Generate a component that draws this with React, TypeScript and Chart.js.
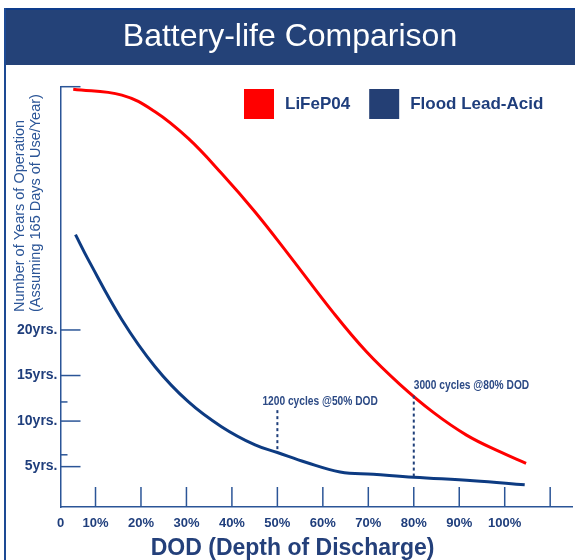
import React, { useEffect, useRef } from 'react';
import { Chart, registerables } from 'chart.js';

Chart.register(...registerables);

// ---------- data ----------
const TITLE = 'Battery-life Comparison';
const Y_TITLE_LINES = ['Number of Years of Operation', '(Assuming 165 Days of Use/Year)'];
const X_TITLE = 'DOD (Depth of Discharge)';

const seriesLabels = ['LiFeP04', 'Flood Lead-Acid'];

const lifepo4Dod = [5.1, 15.8, 23.1, 30.4, 37.7, 45.1, 52.4, 62.3, 69.6, 77.0, 84.3, 91.6, 98.9, 104.7];
const lifepo4Years = [46.42, 45.78, 43.95, 41.02, 37.2, 32.95, 28.33, 21.9, 17.6, 14.0, 10.95, 8.46, 6.64, 5.37];

const leadAcidDod = [5.6, 8.4, 15.8, 23.1, 30.4, 37.7, 45.1, 50, 56.4, 63.8, 71.1, 80, 93.1, 104.4];
const leadAcidYears = [30.46, 27.72, 21.13, 15.97, 12.13, 9.39, 7.38, 6.55, 5.45, 4.42, 4.16, 3.83, 3.46, 3.0];

const X_MIN = 2.3;
const X_MAX = 114.8;
const Y_MIN = 0.57;
const Y_MAX = 46.7;

const xTickValues = [10, 20, 30, 40, 50, 60, 70, 80, 90, 100, 110];
const xTickLabels = ['10%', '20%', '30%', '40%', '50%', '60%', '70%', '80%', '90%', '100%', ''];
const X_ORIGIN_LABEL = '0';

const yTickValues = [5, 10, 15, 20];
const yTickLabels = ['5yrs.', '10yrs.', '15yrs.', '20yrs.'];
const yMinorTickValues = [6.3, 12.1];

const annotationDod = [50, 80];
const annotationTopYears = [11.2, 12.8];
const annotationLabels = ['1200 cycles @50% DOD', '3000 cycles @80% DOD'];

// ---------- styles ----------
const FONT = '"Liberation Sans", Arial, Helvetica, sans-serif';
const NAVY = '#1f3e7c';
const AXIS_COLOR = '#2b5597';
const HEADER_BG = '#244278';
const RED = '#ff0000';
const LINE_BLUE = '#0d3b82';
const legendColors = ['#ff0000', '#243f74'];

const decorPlugin = {
  id: 'decor',
  beforeDraw(chart: any) {
    const ctx = chart.ctx;
    ctx.save();
    ctx.fillStyle = '#ffffff';
    ctx.fillRect(0, 0, chart.width, chart.height);
    // header band
    ctx.fillStyle = HEADER_BG;
    ctx.fillRect(4, 8, chart.width - 4, 57);
    ctx.fillStyle = '#0e3c8c';
    ctx.fillRect(4, 8, chart.width - 4, 2);
    // left frame line
    ctx.fillStyle = '#1d4a94';
    ctx.fillRect(4, 8, 2, chart.height - 8);
    // title
    ctx.fillStyle = '#ffffff';
    ctx.font = `32px ${FONT}`;
    ctx.textAlign = 'center';
    ctx.textBaseline = 'middle';
    ctx.fillText(TITLE, 290, 37);
    ctx.restore();
  },
  afterDraw(chart: any) {
    const ctx = chart.ctx;
    const xs = chart.scales.x;
    const ys = chart.scales.y;
    const area = chart.chartArea;
    ctx.save();
    // tick marks (pointing inward)
    ctx.strokeStyle = AXIS_COLOR;
    ctx.lineWidth = 1.5;
    const seg = (x1: number, y1: number, x2: number, y2: number) => {
      ctx.beginPath();
      ctx.moveTo(x1, y1);
      ctx.lineTo(x2, y2);
      ctx.stroke();
    };
    xTickValues.forEach((v) => {
      const px = xs.getPixelForValue(v);
      seg(px, area.bottom, px, area.bottom - 20);
    });
    yTickValues.forEach((v) => {
      const py = ys.getPixelForValue(v);
      seg(area.left, py, area.left + 20, py);
    });
    yMinorTickValues.forEach((v) => {
      const py = ys.getPixelForValue(v);
      seg(area.left, py, area.left + 7, py);
    });
    const pyTop = ys.getPixelForValue(Y_MAX);
    seg(area.left, pyTop, area.left + 20, pyTop);

    // annotations
    const labelOffsets = [-15, 0];
    const labelLift = [-8, -10];
    annotationDod.forEach((d, i) => {
      const px = xs.getPixelForValue(d);
      const idx = leadAcidDod.indexOf(d);
      const bottomVal = leadAcidYears[idx];
      const pyT = ys.getPixelForValue(annotationTopYears[i]);
      const pyB = ys.getPixelForValue(bottomVal);
      ctx.strokeStyle = '#1f3f7a';
      ctx.lineWidth = 2;
      ctx.setLineDash([3, 3]);
      seg(px, pyT, px, pyB);
      ctx.setLineDash([]);
      ctx.fillStyle = '#2c4a85';
      ctx.font = `bold 12px ${FONT}`;
      ctx.textAlign = 'left';
      ctx.textBaseline = 'middle';
      ctx.save();
      ctx.translate(px + labelOffsets[i], pyT + labelLift[i]);
      ctx.scale(0.85, 1);
      ctx.fillText(annotationLabels[i], 0, 0);
      ctx.restore();
    });

    // legend
    ctx.font = `bold 17px ${FONT}`;
    ctx.textAlign = 'left';
    ctx.textBaseline = 'middle';
    let lx = 244;
    const ly = 89;
    chart.data.datasets.forEach((ds: any, i: number) => {
      ctx.fillStyle = legendColors[i];
      ctx.fillRect(lx, ly, 30, 30);
      ctx.fillStyle = NAVY;
      ctx.fillText(ds.label, lx + 41, ly + 15.5);
      lx += 41 + ctx.measureText(ds.label).width + 19;
    });

    // y title
    ctx.fillStyle = AXIS_COLOR;
    ctx.font = `14.5px ${FONT}`;
    ctx.save();
    ctx.translate(20, 312);
    ctx.rotate(-Math.PI / 2);
    ctx.textAlign = 'left';
    ctx.textBaseline = 'middle';
    Y_TITLE_LINES.forEach((t, i) => ctx.fillText(t, 0, i * 16));
    ctx.restore();

    // x title
    ctx.fillStyle = '#24407a';
    ctx.font = `bold 23px ${FONT}`;
    ctx.textAlign = 'center';
    ctx.textBaseline = 'middle';
    ctx.fillText(X_TITLE, 292.6, 548.5);
    ctx.restore();
  },
};

export default function App() {
  const ref = useRef<HTMLCanvasElement>(null);
  useEffect(() => {
    const chart = new Chart(ref.current as HTMLCanvasElement, {
      type: 'line',
      data: {
        datasets: [
          {
            label: seriesLabels[0],
            data: lifepo4Dod.map((x, i) => ({ x, y: lifepo4Years[i] })),
            borderColor: RED,
            borderWidth: 3,
            pointRadius: 0,
            tension: 0.4,
            fill: false,
            clip: false as any,
          },
          {
            label: seriesLabels[1],
            data: leadAcidDod.map((x, i) => ({ x, y: leadAcidYears[i] })),
            borderColor: LINE_BLUE,
            borderWidth: 3,
            pointRadius: 0,
            tension: 0.4,
            fill: false,
            clip: false as any,
          },
        ],
      },
      options: {
        responsive: false,
        animation: false,
        layout: { padding: { top: 86.7, right: 3, left: 0, bottom: 0 } },
        plugins: {
          legend: { display: false },
          title: { display: false },
          tooltip: { enabled: false },
        },
        scales: {
          x: {
            type: 'linear',
            min: X_MIN,
            max: X_MAX,
            afterFit: (s: any) => {
              s.height = 53;
            },
            afterBuildTicks: (s: any) => {
              s.ticks = [X_MIN, ...xTickValues].map((v) => ({ value: v }));
            },
            ticks: {
              autoSkip: false,
              maxRotation: 0,
              padding: 9,
              color: NAVY,
              font: { family: FONT, size: 13, weight: 'bold' },
              callback: (v: any) => {
                if (v === X_MIN) return X_ORIGIN_LABEL;
                const i = xTickValues.indexOf(v);
                return i >= 0 ? xTickLabels[i] : '';
              },
            },
            grid: { display: true, drawOnChartArea: false, drawTicks: false },
            border: { display: true, color: AXIS_COLOR, width: 1.5 },
          },
          y: {
            type: 'linear',
            min: Y_MIN,
            max: Y_MAX,
            afterFit: (s: any) => {
              s.width = 60.5;
            },
            afterBuildTicks: (s: any) => {
              s.ticks = yTickValues.map((v) => ({ value: v }));
            },
            ticks: {
              autoSkip: false,
              padding: 3,
              color: NAVY,
              font: { family: FONT, size: 14, weight: 'bold' },
              callback: (v: any) => {
                const i = yTickValues.indexOf(v);
                return i >= 0 ? yTickLabels[i] : '';
              },
            },
            grid: { display: true, drawOnChartArea: false, drawTicks: false },
            border: { display: true, color: AXIS_COLOR, width: 1.5 },
          },
        },
      },
      plugins: [decorPlugin],
    } as any);
    return () => chart.destroy();
  }, []);
  return (
    <div style={{ position: 'fixed', left: 0, top: 0, width: 575, height: 560, background: '#fff' }}>
      <canvas ref={ref} width={575} height={560} style={{ display: 'block', width: 575, height: 560 }} />
    </div>
  );
}
